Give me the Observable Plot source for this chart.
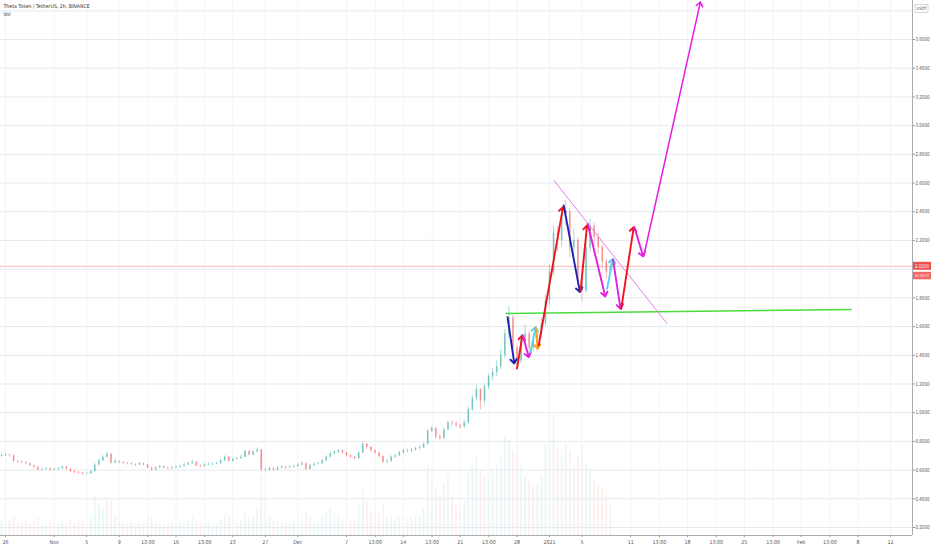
<!DOCTYPE html>
<html><head><meta charset="utf-8">
<script src="https://cdn.jsdelivr.net/npm/d3@7"></script>
<script src="https://cdn.jsdelivr.net/npm/@observablehq/plot@0.6"></script>
<style>
body{margin:0;background:#fff;}
#wrap{position:relative;width:932px;height:550px;overflow:hidden;background:#fff;}
#wrap svg{position:absolute;left:0;top:0;}
</style></head><body><div id="wrap"></div>
<script>
// ---------- data ----------
const title = "Theta Token / TetherUS, 2h, BINANCE";
const firstStart = "2020-10-25T12:00Z";   // first 12h candle
const firstOpen = 0.695;
const close = [
0.70,0.705,0.70,0.66,0.655,0.65,0.645,0.63,0.62,0.60,
0.605,0.61,0.60,0.605,0.61,0.62,0.605,0.59,0.585,0.58,
0.575,0.575,0.59,0.635,0.665,0.69,0.71,0.65,0.66,0.655,
0.648,0.645,0.64,0.635,0.645,0.635,0.615,0.60,0.615,0.625,
0.615,0.61,0.615,0.62,0.625,0.635,0.645,0.655,0.63,0.625,
0.635,0.64,0.64,0.645,0.665,0.69,0.66,0.675,0.68,0.69,
0.73,0.705,0.725,0.74,0.60,0.60,0.61,0.60,0.615,0.62,
0.615,0.62,0.625,0.635,0.645,0.605,0.63,0.64,0.645,0.665,
0.69,0.715,0.725,0.735,0.72,0.70,0.69,0.68,0.72,0.78,
0.76,0.735,0.72,0.695,0.655,0.66,0.69,0.70,0.72,0.735,
0.73,0.74,0.75,0.755,0.78,0.87,0.89,0.83,0.82,0.88,
0.93,0.925,0.91,0.90,0.93,1.02,1.10,1.16,1.08,1.18,
1.25,1.28,1.32,1.40,1.55,1.66,1.45,1.36,1.52,1.55,
1.45,1.50,1.54,1.62,1.78,1.98,2.25,2.20,2.38,2.40,
2.15,2.20,1.92,1.85,2.15,2.30,2.22,2.15,2.05,1.98,2.02];
const high = [
0.71,0.715,0.71,0.705,0.67,0.665,0.66,0.65,0.635,0.625,
0.615,0.62,0.615,0.615,0.62,0.63,0.625,0.61,0.60,0.59,
0.585,0.585,0.60,0.645,0.675,0.70,0.725,0.715,0.675,0.665,
0.66,0.655,0.65,0.645,0.655,0.65,0.64,0.62,0.625,0.635,
0.63,0.62,0.625,0.63,0.635,0.645,0.655,0.67,0.66,0.635,
0.645,0.65,0.65,0.655,0.675,0.70,0.695,0.685,0.69,0.705,
0.74,0.735,0.735,0.755,0.745,0.615,0.62,0.615,0.625,0.63,
0.625,0.63,0.635,0.645,0.66,0.65,0.64,0.65,0.655,0.675,
0.70,0.725,0.735,0.745,0.74,0.725,0.705,0.695,0.73,0.795,
0.785,0.765,0.74,0.725,0.70,0.675,0.70,0.71,0.73,0.745,
0.745,0.75,0.76,0.77,0.79,0.885,0.905,0.895,0.845,0.895,
0.945,0.945,0.935,0.92,0.95,1.04,1.12,1.19,1.17,1.20,
1.27,1.31,1.36,1.44,1.58,1.74,1.68,1.47,1.55,1.61,
1.57,1.53,1.58,1.66,1.82,2.03,2.30,2.30,2.42,2.48,
2.42,2.28,2.22,1.95,2.18,2.35,2.32,2.25,2.17,2.07,2.05];
const low = [
0.69,0.695,0.69,0.655,0.645,0.645,0.64,0.625,0.61,0.595,
0.595,0.60,0.595,0.595,0.60,0.605,0.60,0.585,0.575,0.57,
0.565,0.565,0.57,0.585,0.63,0.66,0.685,0.64,0.645,0.645,
0.64,0.635,0.63,0.625,0.63,0.63,0.61,0.595,0.595,0.61,
0.61,0.60,0.605,0.61,0.615,0.62,0.63,0.64,0.62,0.615,
0.62,0.63,0.63,0.635,0.64,0.66,0.655,0.655,0.67,0.675,
0.685,0.70,0.70,0.72,0.585,0.585,0.595,0.59,0.595,0.61,
0.605,0.61,0.615,0.62,0.63,0.595,0.60,0.625,0.635,0.64,
0.66,0.685,0.705,0.715,0.71,0.69,0.68,0.67,0.675,0.715,
0.745,0.725,0.71,0.685,0.645,0.645,0.655,0.68,0.695,0.71,
0.72,0.72,0.73,0.74,0.75,0.775,0.86,0.815,0.805,0.815,
0.875,0.905,0.895,0.885,0.89,0.92,1.01,1.08,1.02,1.06,
1.16,1.22,1.25,1.30,1.38,1.52,1.42,1.31,1.34,1.48,
1.40,1.43,1.47,1.52,1.60,1.75,1.95,2.12,2.15,2.30,
2.08,2.10,1.88,1.77,1.83,2.12,2.16,2.10,2.00,1.93,1.96];
const volume = [
14,12,15,18,13,12,16,11,14,17,
12,10,13,11,12,14,13,15,12,16,
14,12,18,40,32,28,36,34,20,14,
12,11,13,10,12,11,16,18,14,12,
11,10,12,11,13,12,14,18,15,12,
11,12,10,12,16,22,20,14,13,15,
24,18,20,26,60,38,20,16,14,12,
12,11,13,14,16,24,18,14,12,20,
24,28,22,20,16,18,14,15,30,48,
34,24,20,22,30,18,20,16,18,20,
16,18,20,18,26,70,55,48,40,52,
60,38,30,28,34,62,70,80,66,60,
58,66,70,80,100,95,85,90,70,60,
55,50,52,60,90,140,120,88,80,92,
85,70,78,90,72,66,55,50,48,40,30];

// drawn arrows
const arrowColor = ["navy","red","magenta","cyan","orange","red","navy","red","magenta","cyan","magenta","red","magenta","magenta"];
const arrowStart = ["2020-12-26T20:00Z","2020-12-28T00:00Z","2020-12-28T17:00Z","2020-12-29T16:00Z","2020-12-30T07:00Z","2020-12-30T16:00Z","2021-01-02T18:00Z","2021-01-04T20:00Z","2021-01-05T17:00Z","2021-01-08T02:00Z","2021-01-08T20:00Z","2021-01-09T20:00Z","2021-01-11T11:00Z","2021-01-12T15:00Z"];
const arrowStartPrice = [1.665,1.308,1.538,1.422,1.596,1.468,2.444,1.852,2.316,1.863,2.065,1.724,2.293,2.095];
const arrowEnd = ["2020-12-27T16:00Z","2020-12-28T16:00Z","2020-12-29T11:00Z","2020-12-30T07:00Z","2020-12-30T13:00Z","2021-01-02T16:00Z","2021-01-04T18:00Z","2021-01-05T15:00Z","2021-01-07T21:00Z","2021-01-08T20:00Z","2021-01-09T18:00Z","2021-01-11T09:00Z","2021-01-12T13:00Z","2021-01-19T14:00Z"];
const arrowEndPrice = [1.343,1.538,1.387,1.596,1.445,2.432,1.840,2.305,1.810,2.072,1.724,2.293,2.089,3.861];
const palette = {navy:"#1f22b0", red:"#f2121d", magenta:"#e41fe0", cyan:"#58d3ea", orange:"#f5a623"};

// support (green) and falling trend (pink) lines
const supportDates = ["2020-12-26T14:00Z","2021-02-07T05:00Z"];
const supportPrices = [1.691,1.719];
const trendDates = ["2021-01-01T13:00Z","2021-01-15T12:00Z"];
const trendPrices = [2.618,1.62];

// axes
const yTicks = [0.2,0.4,0.6,0.8,1.0,1.2,1.4,1.6,1.8,2.0,2.2,2.4,2.6,2.8,3.0,3.2,3.4,3.6,3.8];
const yLabelTicks = [0.2,0.4,0.6,0.8,1.0,1.2,1.4,1.6,1.8,2.2,2.4,2.6,2.8,3.0,3.2,3.4,3.6];
const xTickDates = ["2020-10-26T00:00Z","2020-11-01T00:00Z","2020-11-05T00:00Z","2020-11-09T00:00Z","2020-11-12T13:00Z","2020-11-16T00:00Z","2020-11-19T13:00Z","2020-11-23T00:00Z","2020-11-27T00:00Z","2020-12-01T00:00Z","2020-12-07T00:00Z","2020-12-10T13:00Z","2020-12-14T00:00Z","2020-12-17T13:00Z","2020-12-21T00:00Z","2020-12-24T13:00Z","2020-12-28T00:00Z","2021-01-01T00:00Z","2021-01-05T00:00Z","2021-01-11T00:00Z","2021-01-14T13:00Z","2021-01-18T00:00Z","2021-01-21T13:00Z","2021-01-25T00:00Z","2021-01-28T13:00Z","2021-02-01T00:00Z","2021-02-04T13:00Z","2021-02-08T00:00Z","2021-02-12T00:00Z"];
const xTickLabels = ["26","Nov","5","9","13:00","16","13:00","23","27","Dec","7","13:00","14","13:00","21","13:00","28","2021","5","11","13:00","18","13:00","25","13:00","Feb","13:00","8","12"];
const xDomain = ["2020-10-25T09:13Z","2021-02-14T17:03Z"];
const yDomain = [0.1443, 3.872];
const countdown = "01:15:17";

// ---------- build ----------
const W = 932, H = 550;
const FONT = "'Liberation Sans Narrow','DejaVu Sans Condensed','Liberation Sans',sans-serif";
const UP = "#26a69a", DOWN = "#ef5350";
const H12 = 12 * 3600e3;
const t0 = +new Date(firstStart);
const candles = close.map((c, i) => {
  const o = i ? close[i - 1] : firstOpen;
  return {t: new Date(t0 + i * H12), o, c, h: high[i], l: low[i], v: volume[i], col: c >= o ? UP : DOWN};
});
const arrows = arrowColor.map((k, i) => ({
  x1: new Date(arrowStart[i]), y1: arrowStartPrice[i],
  x2: new Date(arrowEnd[i]), y2: arrowEndPrice[i],
  col: palette[k], w: i === 13 ? 1.5 : 1.9
}));
const xd = xDomain.map(d => new Date(d));
const xt = xTickDates.map(d => new Date(d));
const labelMap = new Map(xt.map((d, i) => [+d, xTickLabels[i]]));
const lastClose = close[close.length - 1];

const common = {width: W, height: H, marginLeft: 0, marginRight: 20, marginTop: 0, marginBottom: 15};

const volPlot = Plot.plot({
  ...common,
  x: {type: "utc", domain: xd, axis: null},
  y: {domain: [0, 535], axis: null},
  color: {type: "identity"},
  style: {background: "transparent"},
  marks: [
    Plot.ruleX(candles, {x: "t", y1: 0, y2: "v", stroke: "col", strokeWidth: 1.6, strokeOpacity: 0.1})
  ]
});

const main = Plot.plot({
  ...common,
  x: {type: "utc", domain: xd, axis: null},
  y: {domain: yDomain, axis: null},
  color: {type: "identity"},
  style: {background: "transparent", fontFamily: FONT, color: "#555", overflow: "visible"},
  marks: [
    Plot.ruleY(yTicks, {stroke: "#e6e9ef", strokeWidth: 1}),
    Plot.ruleX(xt, {stroke: "#f3f4f7", strokeWidth: 1}),
    Plot.ruleY([lastClose], {stroke: "#f08c8c", strokeOpacity: 0.6, strokeWidth: 1}),
    Plot.ruleX(candles, {x: "t", y1: "l", y2: "h", stroke: "col", strokeWidth: 0.8, strokeOpacity: 0.5}),
    Plot.ruleX(candles, {x: "t", y1: "o", y2: "c", stroke: "col", strokeWidth: 1.7, strokeOpacity: 0.45}),
    Plot.link([0], {x1: () => new Date(supportDates[0]), y1: () => supportPrices[0], x2: () => new Date(supportDates[1]), y2: () => supportPrices[1], stroke: "#49dd3c", strokeWidth: 1.5}),
    Plot.link([0], {x1: () => new Date(trendDates[0]), y1: () => trendPrices[0], x2: () => new Date(trendDates[1]), y2: () => trendPrices[1], stroke: "#e77de6", strokeWidth: 1}),
    Plot.arrow(arrows, {x1: "x1", y1: "y1", x2: "x2", y2: "y2", stroke: "col", strokeWidth: "w", headLength: 8, headAngle: 75}),
    Plot.ruleY([yDomain[0]], {stroke: "#a9acb3", strokeWidth: 1}),
    Plot.ruleX([xd[1]], {stroke: "#a9acb3", strokeWidth: 1}),
    Plot.axisY({anchor: "right", ticks: yLabelTicks, tickFormat: d => d.toFixed(4), tickSize: 2, tickPadding: 1, fontSize: 5.4, stroke: "#999", className: "yax"}),
    Plot.axisX({anchor: "bottom", ticks: xt, tickFormat: d => labelMap.get(+d), tickSize: 2, tickPadding: 3, fontSize: 5.3, stroke: "#999"}),
    Plot.text([title], {frameAnchor: "top-left", dx: 3, dy: 4, fontSize: 5.2, fill: "#333"}),
    Plot.text(["Vol"], {frameAnchor: "top-left", dx: 3, dy: 11.5, fontSize: 5.2, fill: "#333"})
  ]
});

const wrap = document.getElementById("wrap");
wrap.appendChild(volPlot);
wrap.appendChild(main);

// squeeze the right-axis labels into the narrow price column (condensed, as in the reference)
d3.select(main).selectAll("g[aria-label='y-axis tick label'] text, .yax text")
  .attr("textLength", 14).attr("lengthAdjust", "spacingAndGlyphs");

// price tag and unit box, placed with the plot's own scales
const sx = main.scale("x"), sy = main.scale("y");
const xr = sx.range[1];
const py = sy.apply(lastClose);
const g = d3.select(main).append("g").attr("font-family", FONT);
g.append("rect").attr("x", xr + 1).attr("y", py - 4).attr("width", 18).attr("height", 8).attr("fill", "#ef4f4f");
g.append("text").attr("x", xr + 10).attr("y", py).attr("dy", "0.35em").attr("text-anchor", "middle")
  .attr("font-size", 5).attr("fill", "#fff").attr("textLength", 14).attr("lengthAdjust", "spacingAndGlyphs").text(lastClose.toFixed(4));
g.append("rect").attr("x", xr + 1).attr("y", py + 6).attr("width", 18).attr("height", 7.5).attr("fill", "#f26666");
g.append("text").attr("x", xr + 10).attr("y", py + 9.75).attr("dy", "0.35em").attr("text-anchor", "middle")
  .attr("font-size", 4).attr("fill", "#fff").attr("textLength", 14).attr("lengthAdjust", "spacingAndGlyphs").text(countdown);
g.append("rect").attr("x", xr + 3).attr("y", 4.5).attr("width", 13).attr("height", 8).attr("fill", "#fff").attr("stroke", "#b8bbc2").attr("stroke-width", 0.6);
g.append("text").attr("x", xr + 9.5).attr("y", 8.5).attr("dy", "0.35em").attr("text-anchor", "middle")
  .attr("font-size", 4.4).attr("fill", "#444").attr("textLength", 10).attr("lengthAdjust", "spacingAndGlyphs").text("USDT");
</script></body></html>
